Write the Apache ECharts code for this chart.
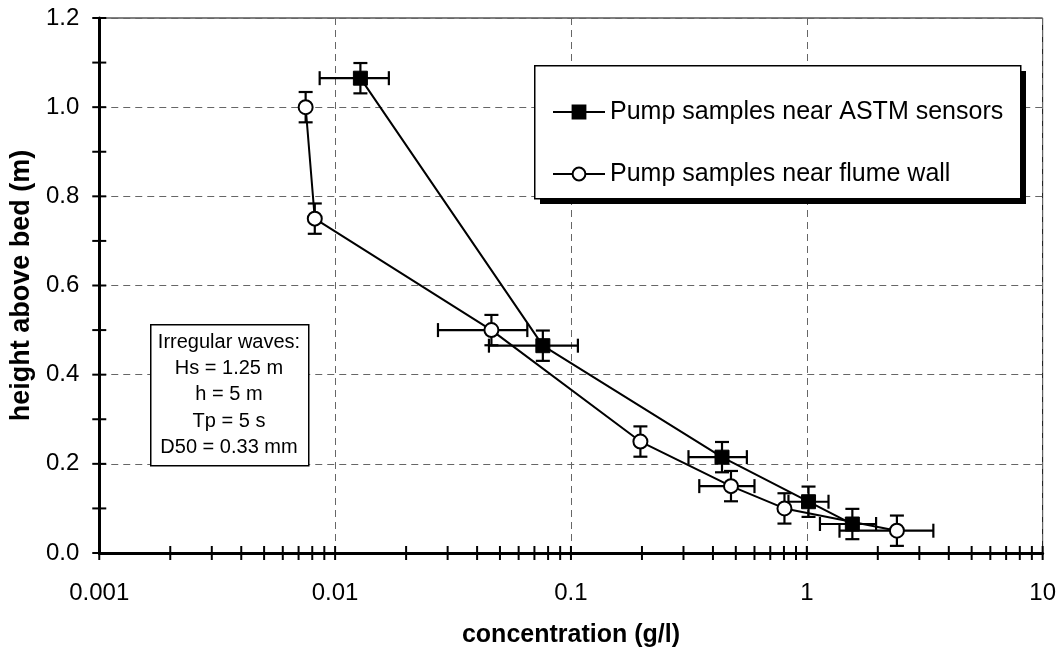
<!DOCTYPE html>
<html>
<head>
<meta charset="utf-8">
<script src="https://cdn.jsdelivr.net/npm/echarts@6/dist/echarts.min.js"></script>
<style>html,body{margin:0;padding:0;background:#fff}#c{width:1059px;height:654px}</style>
</head>
<body>
<div id="c"></div>
<script>
// ---- data ----
const seriesNames = ['Pump samples near ASTM sensors', 'Pump samples near flume wall'];

// Pump samples near ASTM sensors (filled squares)
const astmX = [0.0128, 0.076, 0.437, 1.017, 1.56];
const astmY = [1.065, 0.465, 0.215, 0.115, 0.065];
const astmXLo = [0.0086, 0.0449, 0.315, 0.836, 1.137];
const astmXHi = [0.0169, 0.107, 0.557, 1.236, 1.967];
const astmYErr = [0.034, 0.034, 0.034, 0.034, 0.034];

// Pump samples near flume wall (open circles)
const wallX = [0.0075, 0.0082, 0.046, 0.197, 0.477, 0.804, 2.41];
const wallY = [1.0, 0.75, 0.5, 0.25, 0.15, 0.10, 0.05];
const wallXLo = [null, null, 0.0273, null, 0.35, null, 1.376];
const wallXHi = [null, null, 0.0653, null, 0.60, null, 3.44];
const wallYErr = [0.034, 0.034, 0.034, 0.034, 0.034, 0.034, 0.034];

// axis ticks / labels
const xTickLabels = ['0.001', '0.01', '0.1', '1', '10'];
const xMajorTicks = [0.001, 0.01, 0.1, 1, 10];
const xMinorMultipliers = [2, 3, 4, 5, 6, 7, 8, 9];
const yTickLabels = ['0.0', '0.2', '0.4', '0.6', '0.8', '1.0', '1.2'];
const yTicks = [0, 0.1, 0.2, 0.3, 0.4, 0.5, 0.6, 0.7, 0.8, 0.9, 1.0, 1.1, 1.2];

const boxLines = ['Irregular waves:', 'Hs = 1.25 m', 'h = 5 m', 'Tp = 5 s', 'D50 = 0.33 mm'];

// ---- build ----
const xTicks = [];
xMajorTicks.forEach((m, i) => {
  xTicks.push(m);
  if (i < xMajorTicks.length - 1) xMinorMultipliers.forEach(k => xTicks.push(+(m * k).toPrecision(3)));
});

const FONT = '"Liberation Sans", Arial, sans-serif';

function errRender(xs, ys, xlo, xhi, yerr) {
  return function (params, api) {
    const i = params.dataIndex;
    const cap = 7;
    const style = { stroke: '#000', lineWidth: 2.2, fill: null };
    const children = [];
    const pLo = api.coord([xs[i], ys[i] - yerr[i]]);
    const pHi = api.coord([xs[i], ys[i] + yerr[i]]);
    children.push({ type: 'line', shape: { x1: pLo[0], y1: pLo[1], x2: pHi[0], y2: pHi[1] }, style });
    children.push({ type: 'line', shape: { x1: pLo[0] - cap, y1: pLo[1], x2: pLo[0] + cap, y2: pLo[1] }, style });
    children.push({ type: 'line', shape: { x1: pHi[0] - cap, y1: pHi[1], x2: pHi[0] + cap, y2: pHi[1] }, style });
    if (xlo[i] != null && xhi[i] != null) {
      const a = api.coord([xlo[i], ys[i]]);
      const b = api.coord([xhi[i], ys[i]]);
      children.push({ type: 'line', shape: { x1: a[0], y1: a[1], x2: b[0], y2: b[1] }, style });
      children.push({ type: 'line', shape: { x1: a[0], y1: a[1] - cap, x2: a[0], y2: a[1] + cap }, style });
      children.push({ type: 'line', shape: { x1: b[0], y1: b[1] - cap, x2: b[0], y2: b[1] + cap }, style });
    }
    return { type: 'group', children };
  };
}

const chart = echarts.init(document.getElementById('c'), null, { renderer: 'canvas' });

const option = {
  animation: false,
  backgroundColor: '#fff',
  grid: { left: 98, right: 16, top: 18, bottom: 101, show: true, borderColor: '#000', borderWidth: 1, containLabel: false },
  xAxis: {
    type: 'log', logBase: 10, min: 0.001, max: 10,
    name: 'concentration (g/l)', nameLocation: 'middle', nameGap: 70,
    nameTextStyle: { fontFamily: FONT, fontSize: 25, fontWeight: 'bold', color: '#000' },
    axisLine: { onZero: false, lineStyle: { color: '#000', width: 3 } },
    axisTick: { show: false },
    axisLabel: {
      fontFamily: FONT, fontSize: 24, color: '#000', margin: 28,
      formatter: v => { const i = xMajorTicks.findIndex(m => Math.abs(Math.log10(m) - Math.log10(v)) < 1e-6); return i >= 0 ? xTickLabels[i] : ''; }
    },
    splitLine: { show: true, lineStyle: { color: '#666', type: [7, 5], width: 1 } },
    minorTick: { show: false }
  },
  yAxis: {
    type: 'value', min: 0, max: 1.2, interval: 0.2,
    name: 'height above bed (m)', nameLocation: 'middle', nameGap: 52,
    nameTextStyle: { fontFamily: FONT, fontSize: 27, fontWeight: 'bold', color: '#000' },
    axisLine: { onZero: false, lineStyle: { color: '#000', width: 3 } },
    axisTick: { show: false },
    axisLabel: {
      fontFamily: FONT, fontSize: 24, color: '#000', margin: 20,
      formatter: v => yTickLabels[Math.round(v / 0.2)]
    },
    splitLine: { show: true, lineStyle: { color: '#666', type: [7, 5], width: 1 } }
  },
  legend: {
    orient: 'vertical', left: 534, top: 65, z: 10,
    padding: [34, 16, 10, 18], itemGap: 36, itemWidth: 52, itemHeight: 16,
    backgroundColor: 'transparent', borderWidth: 0,
    textStyle: { fontFamily: FONT, fontSize: 25, color: '#000', lineHeight: 26 },
    data: seriesNames
  },
  graphic: [
    { type: 'rect', left: 540, top: 71, z: 6, silent: true, shape: { width: 486, height: 133 }, style: { fill: '#000' } },
    { type: 'rect', left: 534, top: 65, z: 7, silent: true, shape: { width: 486, height: 133 }, style: { fill: '#fff', stroke: '#000', lineWidth: 1.5 } },
    { type: 'rect', left: 150, top: 324, z: 7, silent: true, shape: { width: 158, height: 141 }, style: { fill: '#fff', stroke: '#000', lineWidth: 1.5 } }
  ].concat(boxLines.map((t, i) => ({
    type: 'text', x: 229, y: 342 + i * 26.4, z: 8, silent: true,
    style: { text: t, fontFamily: FONT, fontSize: 20, fill: '#000', align: 'center', verticalAlign: 'middle' }
  }))),
  series: [
    {
      type: 'custom', name: 'xticks', silent: true, clip: false, z: 5,
      data: xTicks.map(v => [v, 0]),
      renderItem: (params, api) => {
        const p = api.coord([api.value(0), 0]);
        return { type: 'line', shape: { x1: p[0], y1: p[1] - 7, x2: p[0], y2: p[1] + 7 }, style: { stroke: '#000', lineWidth: 2 } };
      }
    },
    {
      type: 'custom', name: 'yticks', silent: true, clip: false, z: 5,
      data: yTicks.map(v => [0.001, v]),
      renderItem: (params, api) => {
        const p = api.coord([0.001, api.value(1)]);
        return { type: 'line', shape: { x1: p[0] - 7, y1: p[1], x2: p[0] + 7, y2: p[1] }, style: { stroke: '#000', lineWidth: 2 } };
      }
    },
    {
      type: 'custom', name: 'astmErr', silent: true, clip: false, z: 3,
      data: astmX.map((x, i) => [x, astmY[i]]),
      renderItem: errRender(astmX, astmY, astmXLo, astmXHi, astmYErr)
    },
    {
      type: 'custom', name: 'wallErr', silent: true, clip: false, z: 3,
      data: wallX.map((x, i) => [x, wallY[i]]),
      renderItem: errRender(wallX, wallY, wallXLo, wallXHi, wallYErr)
    },
    {
      type: 'line', name: seriesNames[0], z: 4,
      data: astmX.map((x, i) => [x, astmY[i]]),
      symbol: 'rect', symbolSize: 14,
      itemStyle: { color: '#000', borderColor: '#000', borderWidth: 1 },
      lineStyle: { color: '#000', width: 2 }
    },
    {
      type: 'line', name: seriesNames[1], z: 4,
      data: wallX.map((x, i) => [x, wallY[i]]),
      symbol: 'circle', symbolSize: 14,
      itemStyle: { color: '#fff', borderColor: '#000', borderWidth: 2 },
      lineStyle: { color: '#000', width: 2 }
    }
  ]
};
chart.setOption(option);
</script>
</body>
</html>
